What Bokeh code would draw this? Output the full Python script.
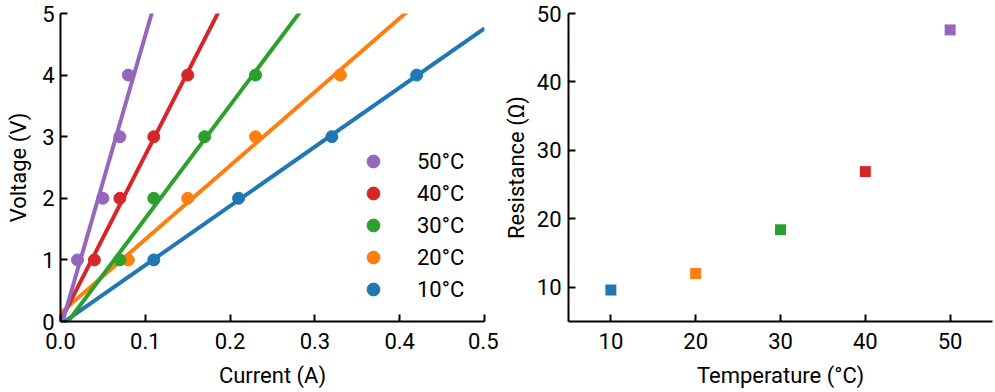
import numpy as np
from bokeh.plotting import figure
from bokeh.layouts import row
from bokeh.models import Legend, LegendItem, FixedTicker, Range1d, ColumnDataSource, NumeralTickFormatter
from bokeh.embed import file_html
from bokeh.resources import INLINE

# ---- data ----
temps = [10, 20, 30, 40, 50]
temp_labels = ["10°C", "20°C", "30°C", "40°C", "50°C"]
colors = ["#1f77b4", "#ff7f0e", "#2ca02c", "#d62728", "#9467bd"]
voltage = [1, 2, 3, 4]
current_10 = [0.11, 0.21, 0.32, 0.42]
current_20 = [0.08, 0.15, 0.23, 0.33]
current_30 = [0.07, 0.11, 0.17, 0.23]
current_40 = [0.04, 0.07, 0.11, 0.15]
current_50 = [0.02, 0.05, 0.07, 0.08]
currents = [current_10, current_20, current_30, current_40, current_50]
resistance = [9.6, 12.0, 18.4, 26.9, 47.6]
current_ticks = [0, 0.1, 0.2, 0.3, 0.4, 0.5]
voltage_ticks = [0, 1, 2, 3, 4, 5]
temp_ticks = [10, 20, 30, 40, 50]
res_ticks = [10, 20, 30, 40, 50]

FONT = "Roboto"
FS = "22px"


def style(p, x_std, y_std, x_lab_std, y_lab_std):
    p.outline_line_color = None
    p.grid.visible = False
    for ax in (p.xaxis[0], p.yaxis[0]):
        ax.axis_line_width = 2
        ax.axis_line_color = "black"
        ax.major_tick_line_width = 2
        ax.major_tick_line_color = "black"
        ax.major_tick_in = 7
        ax.major_tick_out = 0
        ax.minor_tick_line_color = None
        ax.major_label_text_font = FONT
        ax.major_label_text_font_size = FS
        ax.major_label_text_color = "black"
        ax.axis_label_text_font = FONT
        ax.axis_label_text_font_size = FS
        ax.axis_label_text_font_style = "normal"
        ax.axis_label_text_color = "black"
    p.xaxis.major_label_standoff = x_std
    p.yaxis.major_label_standoff = y_std
    p.xaxis.axis_label_standoff = x_lab_std
    p.yaxis.axis_label_standoff = y_lab_std


# ---- left: V-I ----
p1 = figure(frame_width=424, frame_height=308, output_backend="svg", toolbar_location=None,
            x_range=Range1d(0, 0.5), y_range=Range1d(0, 5),
            min_border_left=60, min_border_right=14, min_border_top=13, min_border_bottom=71,
            x_axis_label="Current (A)", y_axis_label="Voltage (V)")
style(p1, 11, 6, 11, 8)
p1.xaxis.ticker = FixedTicker(ticks=current_ticks)
p1.xaxis.formatter = NumeralTickFormatter(format="0.0")
p1.yaxis.ticker = FixedTicker(ticks=voltage_ticks)

scat = {}
for cur, c, lab in zip(currents, colors, temp_labels):
    slope, icpt = np.polyfit(cur, voltage, 1)
    xs = np.array([current_ticks[0], current_ticks[-1]])
    p1.line(xs, slope * xs + icpt, line_color=c, line_width=4)
    scat[lab] = p1.scatter(cur, voltage, size=12, color=c, line_color=c)

items = [LegendItem(label=lab, renderers=[scat[lab]]) for lab in reversed(temp_labels)]
legend = Legend(items=items, location=(297, 16), glyph_width=32, glyph_height=32,
                label_height=32, spacing=0, padding=0, margin=0, label_standoff=28,
                background_fill_alpha=0, border_line_alpha=0,
                label_text_font=FONT, label_text_font_size=FS, label_text_color="black")
p1.add_layout(legend)

# ---- right: R-T ----
src = ColumnDataSource(dict(t=temps, r=resistance, c=colors))
p2 = figure(frame_width=424, frame_height=308, output_backend="svg", toolbar_location=None,
            x_range=Range1d(5, 55), y_range=Range1d(5, 50),
            min_border_left=70, min_border_right=3, min_border_top=13, min_border_bottom=71,
            x_axis_label="Temperature (°C)", y_axis_label="Resistance (Ω)")
style(p2, 11, 7, 11, 5)
p2.xaxis.ticker = FixedTicker(ticks=temp_ticks)
p2.yaxis.ticker = FixedTicker(ticks=res_ticks)
p2.scatter("t", "r", source=src, marker="square", size=12, color="c", line_color="white", line_width=1)

layout = row(p1, p2)
open("out.html", "w").write(file_html(layout, INLINE))
